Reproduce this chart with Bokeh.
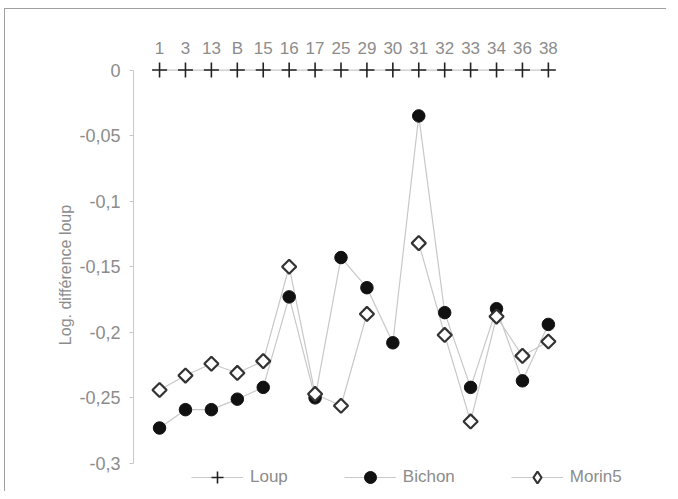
import math
from bokeh.plotting import figure
from bokeh.models import (Range1d, FixedTicker, CustomJSTickFormatter, Legend, LegendItem,
                          ColumnDataSource)
from bokeh.embed import file_html
from bokeh.resources import INLINE

categories = ["1", "3", "13", "B", "15", "16", "17", "25", "29", "30", "31", "32", "33", "34", "36", "38"]
loup = [0.0] * 16
bichon = [-0.273, -0.259, -0.259, -0.251, -0.242, -0.173, -0.250, -0.143, -0.166, -0.208,
          -0.035, -0.185, -0.242, -0.182, -0.237, -0.194]
morin5 = [-0.244, -0.233, -0.224, -0.231, -0.222, -0.150, -0.247, -0.256, -0.186, float("nan"),
          -0.132, -0.202, -0.268, -0.188, -0.218, -0.207]
y_ticks = [0, -0.05, -0.1, -0.15, -0.2, -0.25, -0.3]

x = list(range(len(categories)))
src = ColumnDataSource(dict(x=x, loup=loup, bichon=bichon, morin5=morin5))

FONT = "Liberation Sans"
TXT = "#8c8c8c"
LINE = "#c8c8c8"

p = figure(width=662, height=483, output_backend="svg", toolbar_location=None,
           x_range=Range1d(-1.005, 19.21), y_range=Range1d(-0.32217, 0.00956),
           x_axis_location="above", min_border_left=128, min_border_right=10,
           min_border_top=48, min_border_bottom=0)
p.styles = {"border-top": "1px solid #a0a0a0", "border-left": "1px solid #a0a0a0",
            "margin-left": "4px", "margin-top": "8px"}
p.outline_line_color = None
p.grid.visible = False
p.background_fill_color = "white"

# top category axis
xa = p.xaxis[0]
xa.ticker = FixedTicker(ticks=x)
xa.major_label_overrides = {i: c for i, c in enumerate(categories)}
xa.axis_line_color = None
xa.major_tick_line_color = None
xa.minor_tick_line_color = None
xa.major_label_standoff = -6
xa.major_label_text_font = FONT
xa.major_label_text_font_size = "17px"
xa.major_label_text_color = TXT

ya = p.yaxis[0]
ya.ticker = FixedTicker(ticks=y_ticks)
ya.formatter = CustomJSTickFormatter(code="return String(Math.round(tick*100)/100).replace('.', ',');")
ya.bounds = (-0.3, 0)
ya.axis_line_color = LINE
ya.major_tick_line_color = LINE
ya.major_tick_in = 0
ya.major_tick_out = 4
ya.minor_tick_line_color = None
ya.major_label_standoff = 9
ya.major_label_text_font = FONT
ya.major_label_text_font_size = "18px"
ya.major_label_text_color = TXT
ya.axis_label = "Log. différence loup"
ya.axis_label_text_font = FONT
ya.axis_label_text_font_size = "16px"
ya.axis_label_text_font_style = "normal"
ya.axis_label_text_color = TXT
ya.axis_label_standoff = 2

l1 = p.line("x", "loup", source=src, line_color=LINE, line_width=1.2)
l2 = p.line("x", "bichon", source=src, line_color=LINE, line_width=1.2)
l3 = p.line("x", "morin5", source=src, line_color=LINE, line_width=1.2)

s1 = p.scatter("x", "loup", source=src, marker="cross", size=15, line_color="#222222", line_width=1.6)
s2 = p.scatter("x", "bichon", source=src, marker="circle", size=12.5, fill_color="#111111",
               line_color="#111111", line_width=1)
s3 = p.scatter("x", "morin5", source=src, marker="square", angle=math.pi / 4, size=10,
               fill_color="white", line_color="#333333", line_width=2.2)
# legend proxy for the rotated-square marker (legend glyphs ignore angle); placed off-range
s3_leg = p.scatter(x=[1000], y=[1000], marker="diamond", size=10, fill_color="white",
                   line_color="#333333", line_width=2.2)

legend = Legend(items=[LegendItem(label="Loup", renderers=[l1, s1]),
                       LegendItem(label="Bichon", renderers=[l2, s2]),
                       LegendItem(label="Morin5", renderers=[l3, s3_leg])],
                orientation="horizontal", location=(58, 0), padding=0, margin=0,
                spacing=56, glyph_width=52, glyph_height=30, label_height=30,
                label_standoff=7, border_line_color=None, background_fill_alpha=0,
                label_text_font=FONT, label_text_font_size="17px", label_text_color=TXT)
p.add_layout(legend, "center")

open("out.html", "w").write(file_html(p, INLINE))
